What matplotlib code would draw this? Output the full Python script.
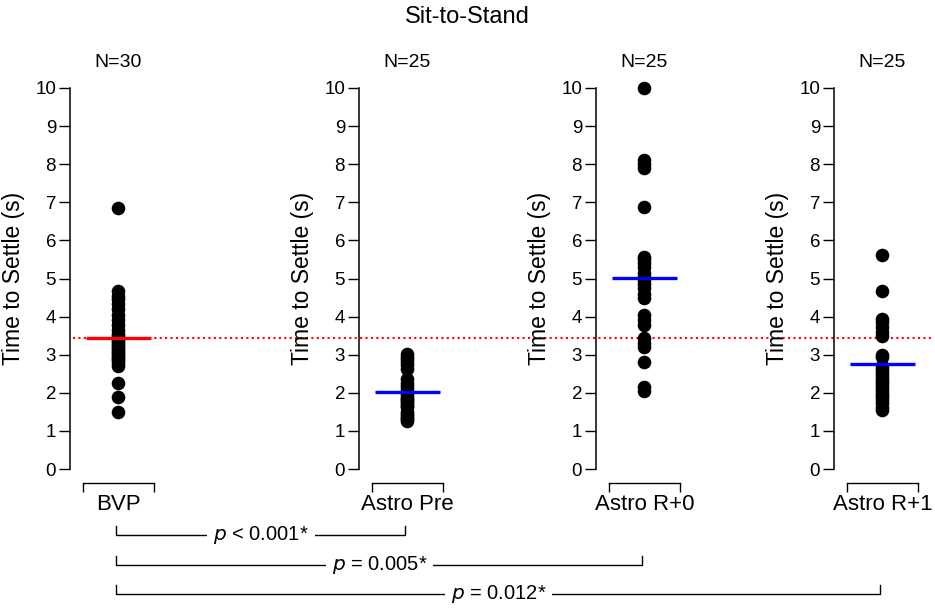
import numpy as np
import matplotlib
matplotlib.use('Agg')
from matplotlib import pyplot as plt
from matplotlib.lines import Line2D
from matplotlib.transforms import blended_transform_factory

plt.rcParams['font.family'] = ['Liberation Sans', 'DejaVu Sans']

TITLE = 'Sit-to-Stand'
YLABEL = 'Time to Settle (s)'
groups = ['BVP', 'Astro Pre', 'Astro R+0', 'Astro R+1']
line_colors = ['red', 'blue', 'blue', 'blue']

bvp = [6.84, 4.66, 4.55, 4.45, 4.32, 4.2, 4.05, 3.9, 3.78, 3.65, 3.55, 3.5, 3.45, 3.4,
       3.35, 3.3, 3.25, 3.2, 3.15, 3.1, 3.05, 3.0, 2.95, 2.9, 2.85, 2.78, 2.7,
       2.25, 1.9, 1.5]
astro_pre = [3.02, 2.95, 2.88, 2.8, 2.72, 2.62, 2.35, 2.25, 2.18, 2.1, 2.02, 1.96, 1.9,
             1.85, 1.8, 1.75, 1.7, 1.66, 1.62, 1.5, 1.45, 1.4, 1.35, 1.3, 1.27]
astro_r0 = [10.0, 8.1, 8.0, 7.9, 6.88, 5.57, 5.5, 5.4, 5.3, 5.15, 5.05, 4.95, 4.85, 4.74,
            4.6, 4.48, 4.04, 3.9, 3.78, 3.43, 3.3, 3.21, 2.82, 2.15, 2.05]
astro_r1 = [5.62, 4.68, 3.95, 3.85, 3.72, 3.6, 3.48, 3.0, 2.95, 2.7, 2.62, 2.55, 2.48,
            2.4, 2.32, 2.25, 2.18, 2.1, 2.02, 1.95, 1.88, 1.8, 1.72, 1.64, 1.56]
values = [bvp, astro_pre, astro_r0, astro_r1]

comparisons = [(0, 1, '< 0.001*'), (0, 2, '= 0.005*'), (0, 3, '= 0.012*')]

# layout in pixels
W, H = 935, 609
spine_x = [70, 359, 596, 834]
ax_w, y0_px, y10_px = 84, 469, 88
bracket_y = [535, 565, 594]

fig = plt.figure(figsize=(W / 100, H / 100), dpi=100)
axes = []
for i, (name, vals) in enumerate(zip(groups, values)):
    ax = fig.add_axes([spine_x[i] / W, (H - y0_px) / H, ax_w / W, (y0_px - y10_px) / H])
    ax.patch.set_visible(False)
    ax.set_xlim(-0.683, 0.5)
    ax.set_ylim(0, 10)
    ax.plot(np.zeros(len(vals)), vals, 'o', color='black', ms=9.8, mew=0, clip_on=False, zorder=3)
    m = np.mean(vals)
    ax.plot([-0.46, 0.46], [m, m], color=line_colors[i], lw=2.4, zorder=4, solid_capstyle='butt')

    for s in ['top', 'right']:
        ax.spines[s].set_visible(False)
    ax.spines['left'].set_linewidth(1.1)
    ax.spines['left'].set_bounds(0, 10)
    ax.spines['bottom'].set_position(('outward', 10))
    ax.spines['bottom'].set_bounds(-0.5, 0.5)
    ax.spines['bottom'].set_linewidth(1.0)

    ax.set_yticks(range(0, 11))
    ax.tick_params(axis='y', length=8, width=1.0, pad=2, labelsize=13.5)
    ax.set_xticks([-0.5, 0.5], ['', ''])
    ax.tick_params(axis='x', which='major', direction='out', length=6.5, width=1.0)
    ax.set_xticks([0], [name], minor=True)
    ax.tick_params(axis='x', which='minor', length=0, pad=8, labelsize=16)

    ax.set_ylabel(YLABEL, fontsize=16.5)
    ax.yaxis.set_label_coords(-0.54, 0.5)

    tr = blended_transform_factory(ax.transData, ax.transAxes)
    ax.text(0, 1.068, f'N={len(vals)}', transform=tr, ha='center', va='center', fontsize=14)
    axes.append(ax)

# dotted reference line at the BVP mean, across the whole figure
ref = np.mean(bvp)
tr_ref = blended_transform_factory(fig.transFigure, axes[0].transData)
fig.add_artist(Line2D([73 / W, 932 / W], [ref, ref], transform=tr_ref, color='red',
                      lw=1.5, linestyle=(0, (1, 1.6)), zorder=-1))

fig.text(0.5, 1 - 17 / H, TITLE, ha='center', va='center', fontsize=17)

# significance brackets
inv = fig.transFigure.inverted()
def center_x(ax):
    return inv.transform(ax.transData.transform((0, 0)))[0]

for (a, b, ptxt), yb in zip(comparisons, bracket_y):
    xa, xb = center_x(axes[a]) - 2 / W, center_x(axes[b]) - 2 / W
    yf = 1 - yb / H
    yt = 1 - (yb - 9) / H
    fig.add_artist(Line2D([xa, xa, xb, xb], [yt, yf, yf, yt], color='black', lw=1.0))
    fig.text((xa + xb) / 2, yf, f'$\\mathit{{p}}$ {ptxt}', ha='center', va='center', fontsize=14.5,
             bbox=dict(facecolor='white', edgecolor='none', pad=4))

fig.savefig('out.png', dpi=100)
